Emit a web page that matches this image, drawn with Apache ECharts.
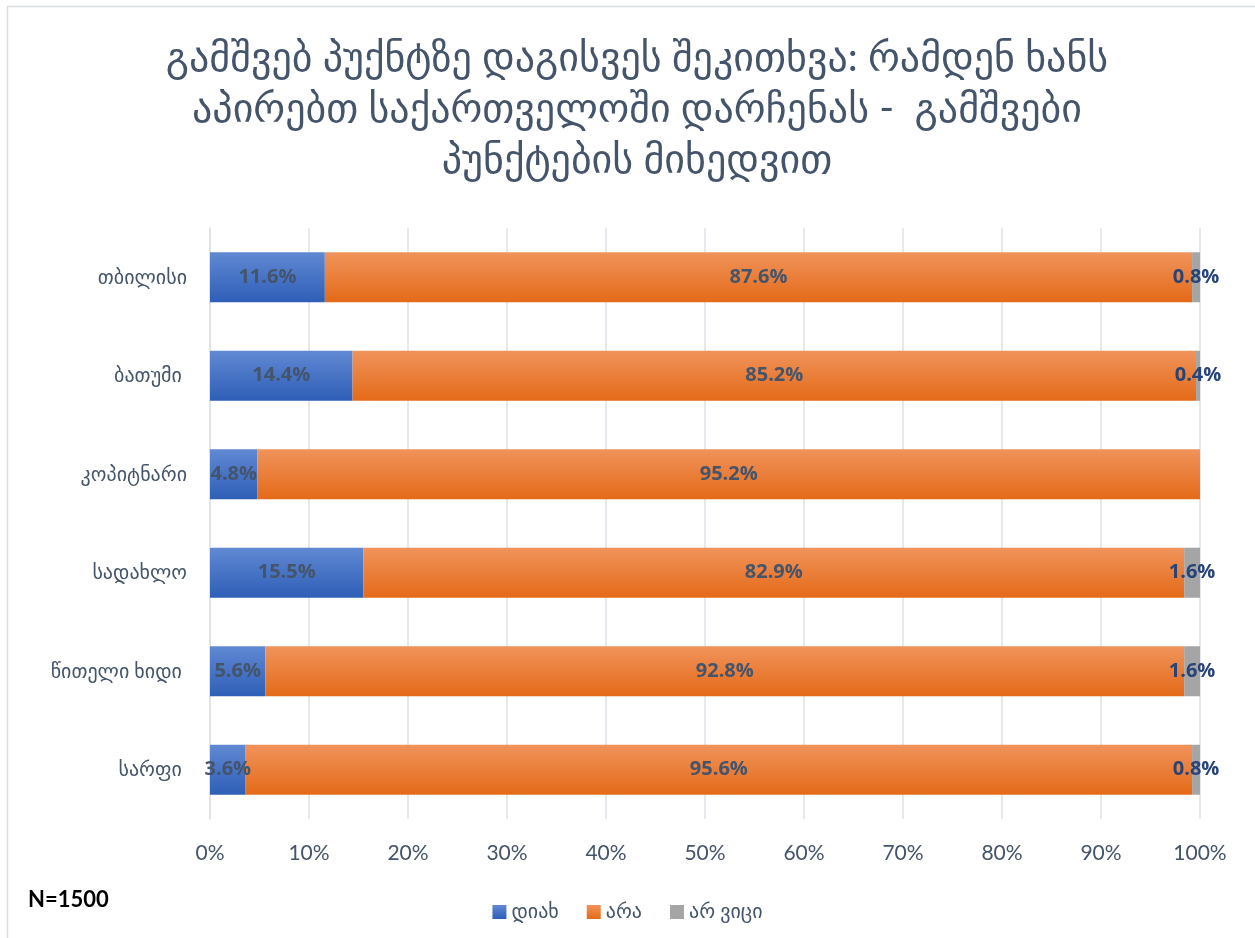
<!DOCTYPE html>
<html>
<head>
<meta charset="utf-8">
<script src="https://cdn.jsdelivr.net/npm/echarts@6/dist/echarts.min.js"></script>
<style>html,body{margin:0;padding:0;background:#fff;}#c{width:1255px;height:938px;}</style>
</head>
<body>
<div id="c"></div>
<script>
const categories = ['თბილისი', 'ბათუმი ', 'კოპიტნარი', 'სადახლო', 'წითელი ხიდი ', 'სარფი '];
const seriesNames = ['დიახ', 'არა', 'არ ვიცი'];
const yesValues = [11.6, 14.4, 4.8, 15.5, 5.6, 3.6];
const noValues = [87.6, 85.2, 95.2, 82.9, 92.8, 95.6];
const dkValues = [0.8, 0.4, 0, 1.6, 1.6, 0.8];
const xTicks = [0, 10, 20, 30, 40, 50, 60, 70, 80, 90, 100];
const titleText = 'გამშვებ პუქნტზე დაგისვეს შეკითხვა: რამდენ ხანს\nაპირებთ საქართველოში დარჩენას -  გამშვები\nპუნქტების მიხედვით';

const FONT = "Lato, 'DejaVu Sans', sans-serif";
const LFONT = "'Open Sans', 'DejaVu Sans', sans-serif";
const grad = (a, b) => new echarts.graphic.LinearGradient(0, 0, 0, 1, [{offset: 0, color: a}, {offset: 1, color: b}]);
const lbl = (color) => ({
  show: true, position: 'inside', color: color, fontFamily: LFONT, fontWeight: 'bold', fontSize: 20,
  formatter: p => p.value ? p.value.toFixed(1) + '%' : ''
});

const chart = echarts.init(document.getElementById('c'), null, {renderer: 'canvas'});
chart.setOption({
  backgroundColor: '#fff',
  animation: false,
  title: {
    text: titleText, left: 632, top: 28, textAlign: 'center',
    textStyle: {color: '#44546A', fontFamily: FONT, fontSize: 40, fontWeight: 'normal', lineHeight: 51}
  },
  graphic: [
    {type: 'rect', shape: {x: 7.5, y: 6.5, width: 1300, height: 1000}, style: {fill: 'none', stroke: '#D9DDE2', lineWidth: 1.5}, silent: true},
    {type: 'text', left: 28, top: 889, style: {text: 'N=1500', fill: '#000', font: "bold 22px Lato, 'DejaVu Sans', sans-serif"}}
  ],
  legend: {
    data: seriesNames, left: 'center', top: 897, itemWidth: 14, itemHeight: 14, itemGap: 28,
    icon: 'rect', textStyle: {color: '#44546A', fontFamily: FONT, fontSize: 20}
  },
  grid: {left: 210, right: 55, top: 228, bottom: 119, containLabel: false},
  xAxis: {
    type: 'value', min: 0, max: 100, interval: 10,
    axisLine: {show: false}, axisTick: {show: false},
    splitLine: {lineStyle: {color: '#DDE1E6', width: 1.5}},
    axisLabel: {formatter: '{value}%', color: '#44546A', fontFamily: FONT, fontSize: 21, margin: 24}
  },
  yAxis: {
    type: 'category', data: categories, inverse: true,
    axisLine: {show: true, lineStyle: {color: '#DDE1E6', width: 1.5}}, axisTick: {show: false},
    axisLabel: {color: '#44546A', fontFamily: FONT, fontSize: 20, margin: 23}
  },
  series: [
    {name: seriesNames[0], type: 'bar', stack: 'a', data: yesValues, barWidth: 50,
      itemStyle: {color: grad('#6189D3', '#2E5EB7')}, label: lbl('#44546A')},
    {name: seriesNames[1], type: 'bar', stack: 'a', data: noValues, barWidth: 50,
      itemStyle: {color: grad('#F0935B', '#E46A18')}, label: lbl('#44546A')},
    {name: seriesNames[2], type: 'bar', stack: 'a', data: dkValues, barWidth: 50,
      itemStyle: {color: '#A5A5A5'}, label: lbl('#264478')}
  ]
});
</script>
</body>
</html>
